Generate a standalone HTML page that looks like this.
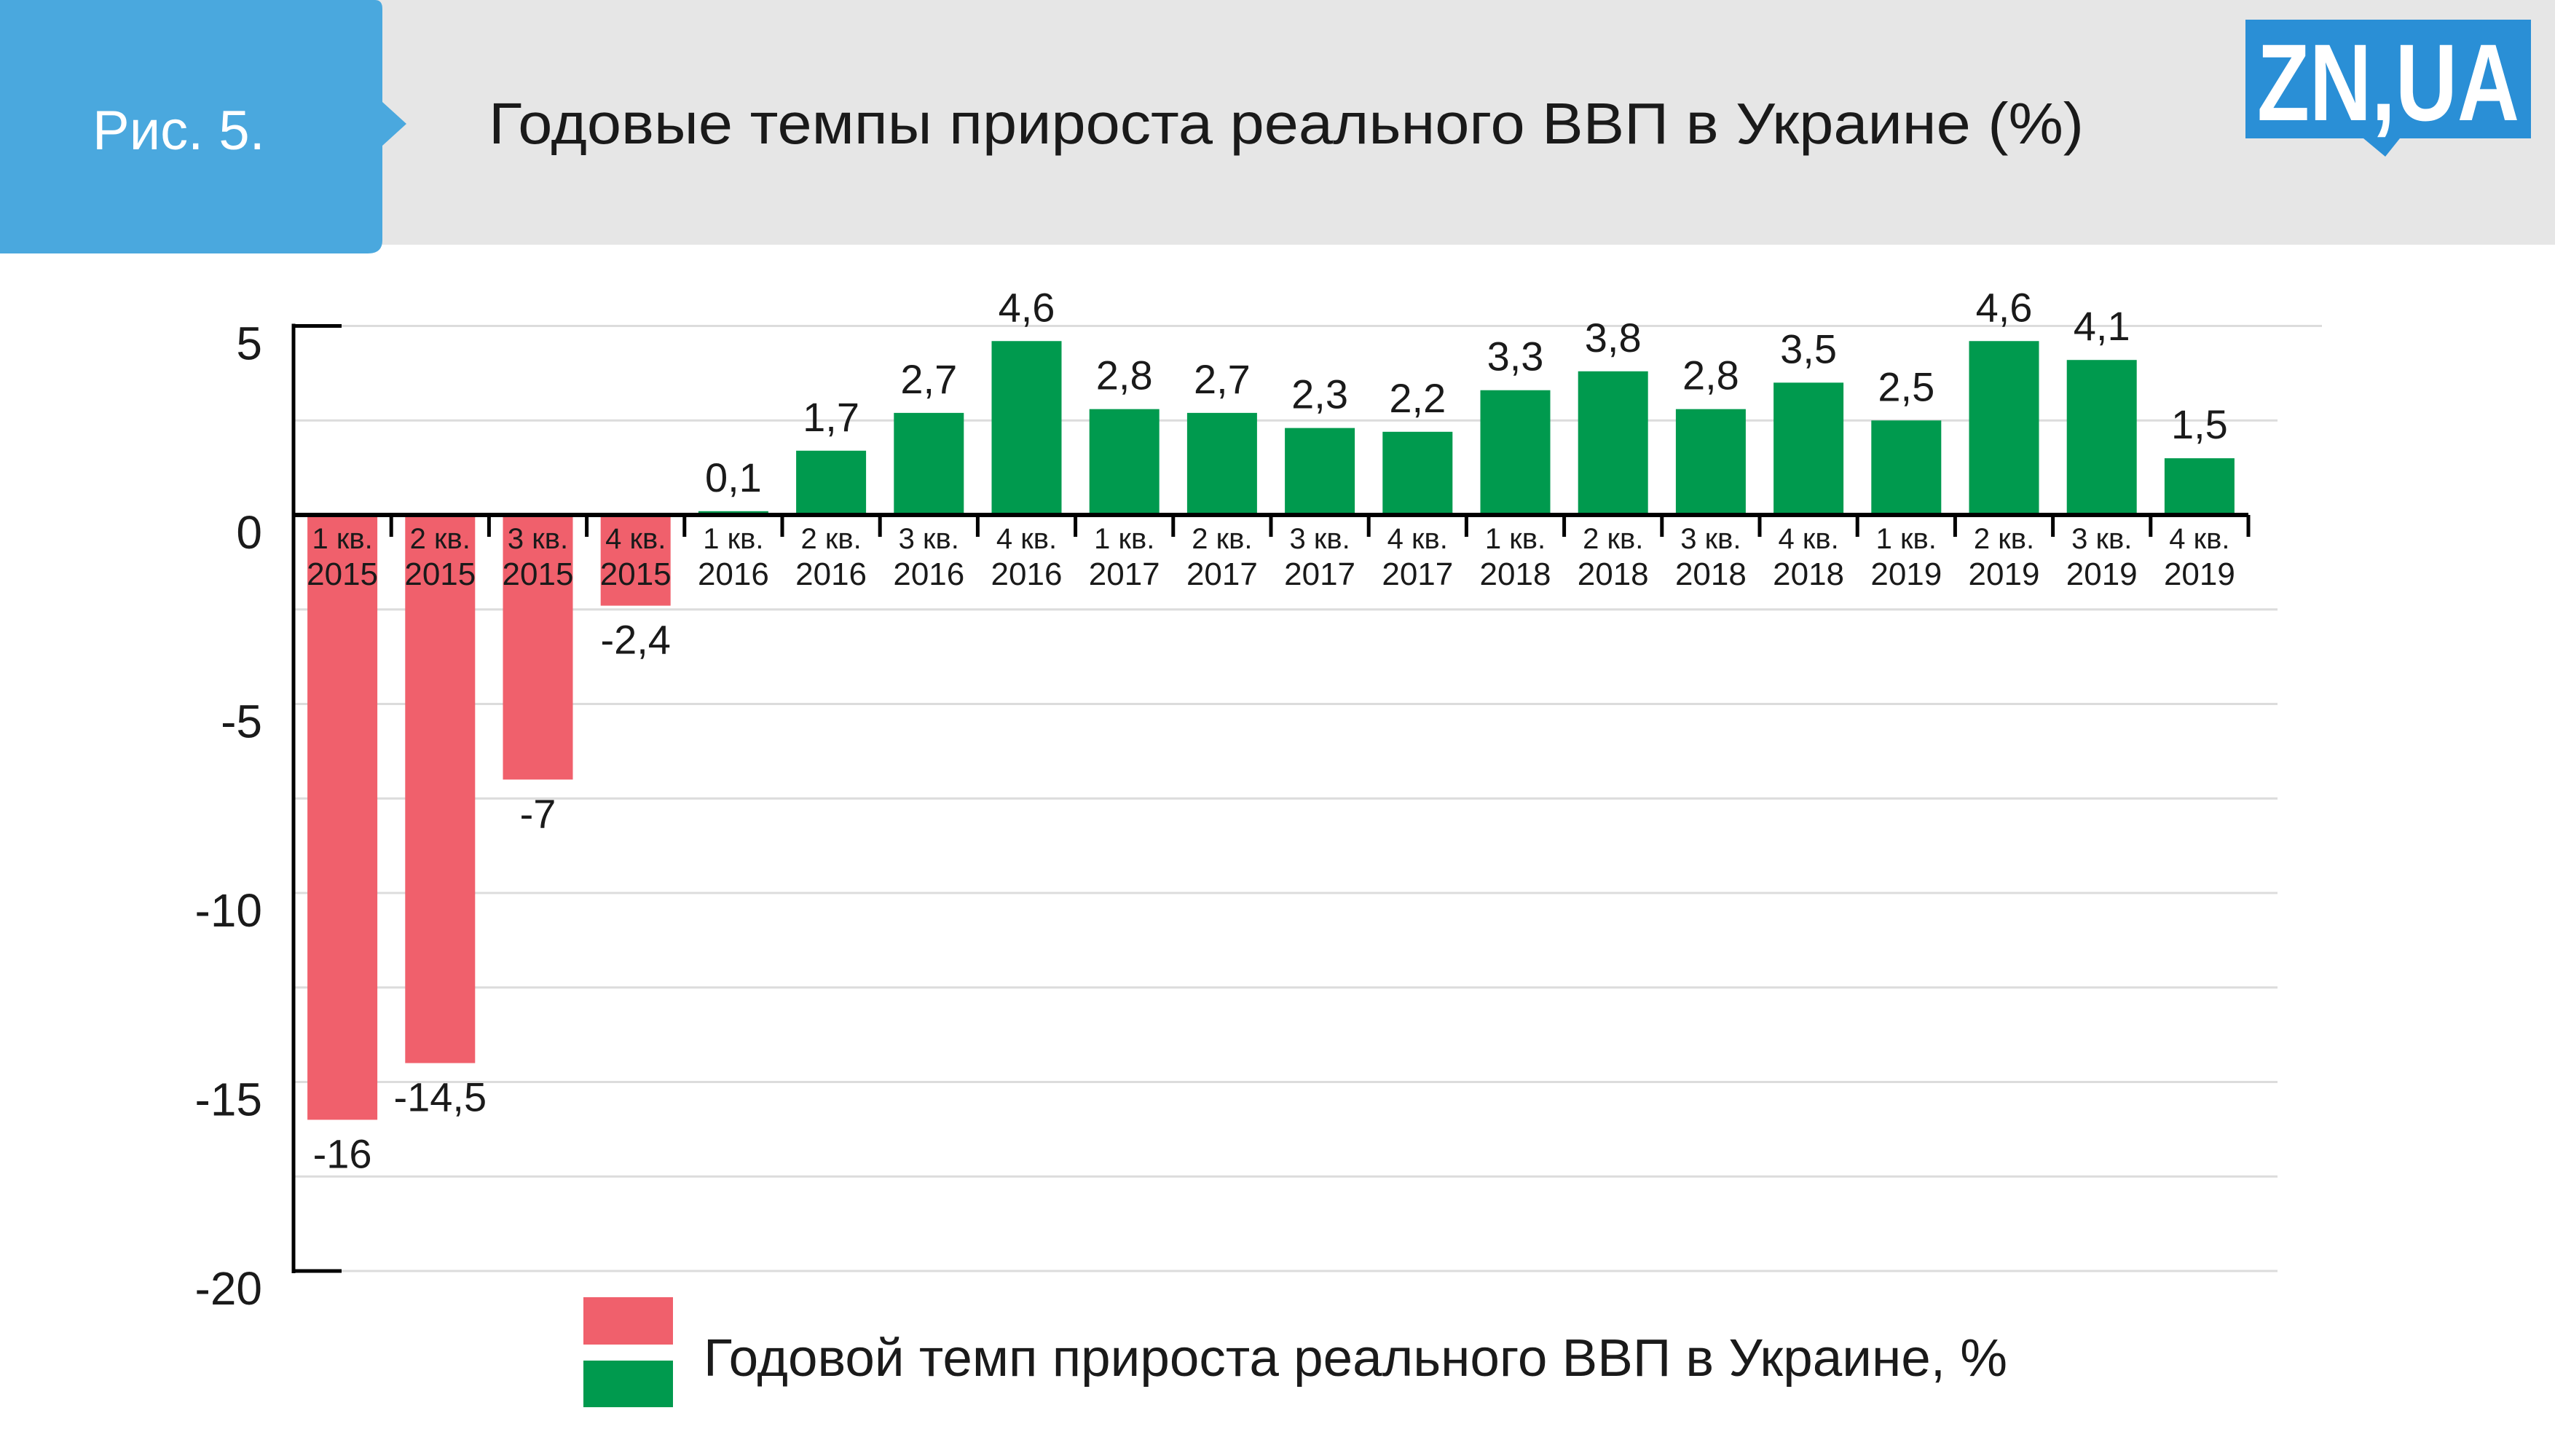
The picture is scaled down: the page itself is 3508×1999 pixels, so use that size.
<!DOCTYPE html>
<html><head><meta charset="utf-8"><style>
html,body{margin:0;padding:0;background:#fff;}
svg{display:block;font-family:"Liberation Sans","DejaVu Sans",sans-serif;}
</style></head><body>
<svg id="chart" width="3508" height="1999" viewBox="0 0 3508 1999" xmlns="http://www.w3.org/2000/svg">
<rect x="0" y="0" width="3508" height="336" fill="#e6e6e6"/>
<path d="M0 0 H515 Q525 0 525 12 V140 L558 170 L525 200 V330 Q525 348 505 348 H0 Z" fill="#4aa8de"/>
<text x="127" y="205" font-size="76" fill="#fff">Рис. 5.</text>
<text x="671" y="197" font-size="80" fill="#1a1a1a" textLength="2190" lengthAdjust="spacingAndGlyphs">Годовые темпы прироста реального ВВП в Украине (%)</text>
<g>
<rect x="3083" y="27" width="392" height="163" fill="#2a8fd6"/>
<path d="M3245 190 L3275 215 L3295 190 Z" fill="#2a8fd6"/>
<text x="3279" y="165" font-size="150" font-weight="bold" fill="#fff" text-anchor="middle" textLength="360" lengthAdjust="spacingAndGlyphs">ZN,UA</text>
</g>
<g id="grid"></g>
<g id="bars"></g>
<g id="axes"></g>
<g id="labels"></g>
<rect x="801" y="1781" width="123" height="65" fill="#f0606c"/>
<rect x="801" y="1868" width="123" height="64" fill="#009a4e"/>
<text x="966" y="1889" font-size="72" fill="#1a1a1a" textLength="1790" lengthAdjust="spacingAndGlyphs">Годовой темп прироста реального ВВП в Украине, %</text>
</svg>
<script>
const quarters = ["1 кв.","2 кв.","3 кв.","4 кв.","1 кв.","2 кв.","3 кв.","4 кв.","1 кв.","2 кв.","3 кв.","4 кв.","1 кв.","2 кв.","3 кв.","4 кв.","1 кв.","2 кв.","3 кв.","4 кв."];
const years = ["2015","2015","2015","2015","2016","2016","2016","2016","2017","2017","2017","2017","2018","2018","2018","2018","2019","2019","2019","2019"];
const values = [-16,-14.5,-7,-2.4,0.1,1.7,2.7,4.6,2.8,2.7,2.3,2.2,3.3,3.8,2.8,3.5,2.5,4.6,4.1,1.5];
const yTicks = [5,0,-5,-10,-15,-20];
const gridVals = [5,2.5,0,-2.5,-5,-7.5,-10,-12.5,-15,-17.5,-20];

const NS="http://www.w3.org/2000/svg";
const X0=403, X1=3087, Y0=707, PPU=51.9;
const slot=(X1-X0)/quarters.length, bw=96;
function y(v){return Y0 - v*PPU;}
function xs(i){return X0 + slot*i;}
function mk(tag,attrs,parent,txt){const e=document.createElementNS(NS,tag);for(const k in attrs)e.setAttribute(k,attrs[k]);if(txt!==undefined)e.textContent=txt;document.getElementById(parent).appendChild(e);return e;}
function fmt(v){return String(v).replace('.',',');}

gridVals.forEach(g=>{
  if(g===0)return;
  const el=mk('line',{x1:X0,x2:g===5?3188:3127,y1:y(g),y2:y(g),stroke:'#dcdcdc','stroke-width':3},'grid');
  
  
});

values.forEach((v,i)=>{
  const cx=xs(i)+slot/2;
  const top=Math.min(y(v),Y0), h=Math.abs(y(v)-Y0);
  const r=mk('rect',{x:cx-bw/2,y:top,width:bw,height:Math.max(h,3),fill:v<0?'#f0606c':'#009a4e'},'bars');
  
  
  const vl=mk('text',{x:cx,y:v<0?y(v)+66:y(v)-27,'font-size':56,'text-anchor':'middle',fill:'#1a1a1a'},'labels',fmt(v));
  
  
  const q=mk('text',{x:cx,y:753,'font-size':40,'text-anchor':'middle',fill:'#1a1a1a'},'labels',quarters[i]);
  
  
  const yr=mk('text',{x:cx,y:803,'font-size':44,'text-anchor':'middle',fill:'#1a1a1a'},'labels',years[i]);
  
  
});

let a=mk('line',{x1:X0,x2:X0,y1:y(5)-3,y2:y(-20)+3,stroke:'#000','stroke-width':5},'axes');


a=mk('line',{x1:X0,x2:X1,y1:Y0,y2:Y0,stroke:'#000','stroke-width':6},'axes');


[5,-20].forEach(v=>{
  const t=mk('line',{x1:X0,x2:X0+66,y1:y(v),y2:y(v),stroke:'#000','stroke-width':5},'axes');
  
  
});
for(let i=1;i<=quarters.length;i++){
  const t=mk('line',{x1:xs(i),x2:xs(i),y1:Y0,y2:Y0+30,stroke:'#000','stroke-width':5},'axes');
  
  
}
yTicks.forEach(v=>{
  const t=mk('text',{x:360,y:y(v)+46,'font-size':64,'text-anchor':'end',fill:'#1a1a1a'},'labels',String(v));
  
  
});
</script>
</body></html>
